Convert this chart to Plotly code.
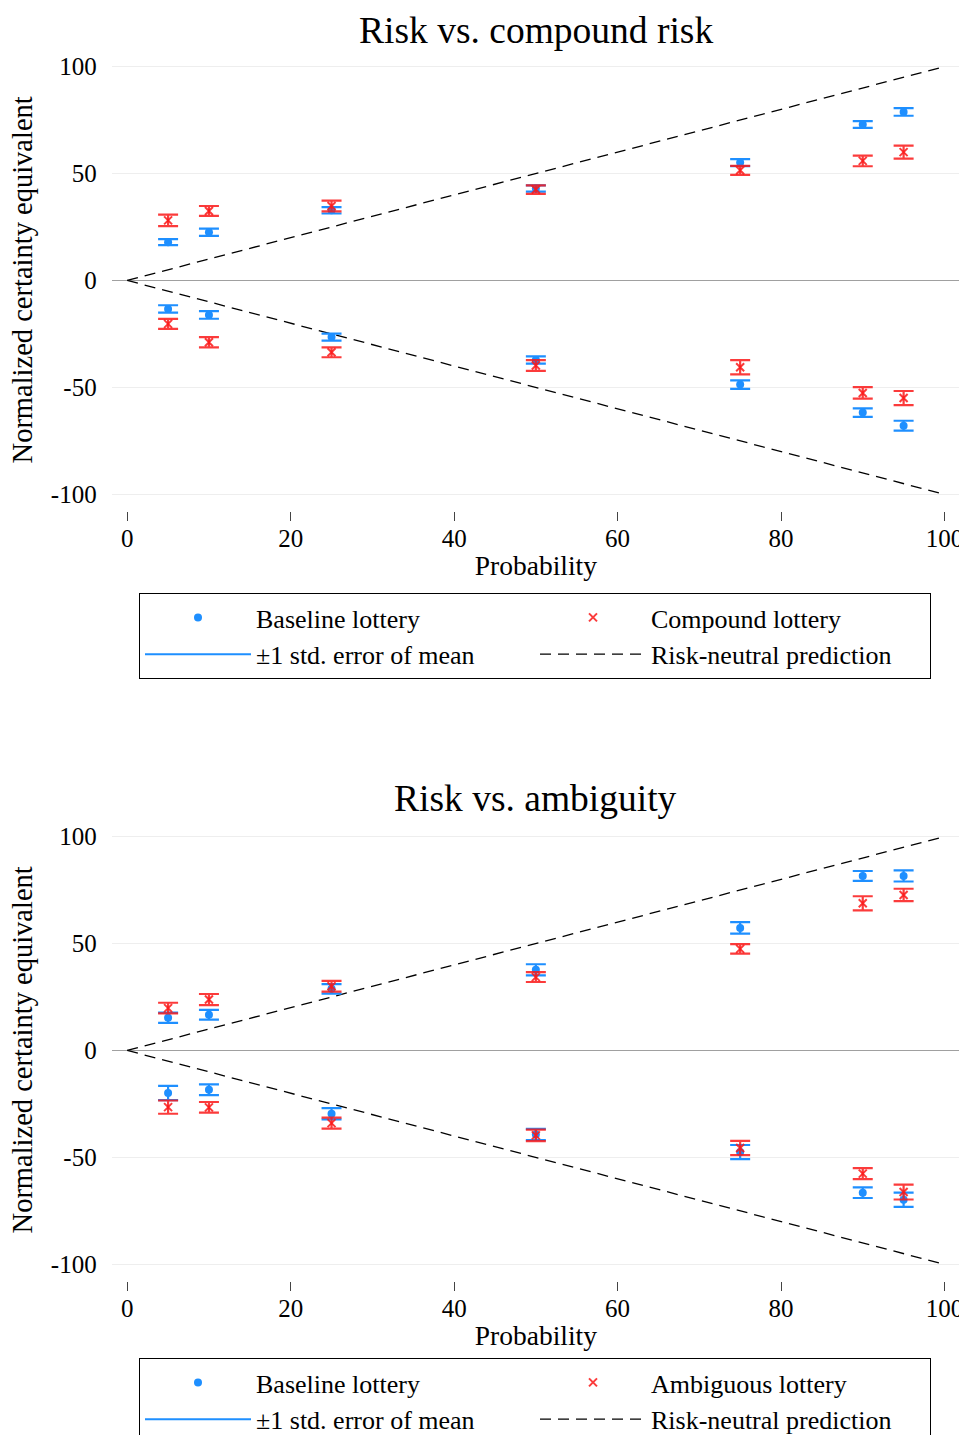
import plotly.graph_objects as go

# The page body has an 8px default margin, so keep the figure inside the window
OFF = 8
W, H = 967 - OFF, 1443 - 2 * OFF

probability = [5, 10, 25, 50, 75, 90, 95]

# Panel 1: Risk vs. compound risk
p1_baseline_gain = [17.9, 22.5, 32.8, 43.0, 55.1, 72.9, 78.8]
p1_baseline_gain_se = [1.4, 1.7, 1.5, 1.5, 1.6, 1.6, 1.8]
p1_compound_gain = [28.1, 32.5, 34.8, 42.5, 51.5, 55.9, 60.0]
p1_compound_gain_se = [2.7, 2.3, 2.5, 2.0, 2.1, 2.5, 3.0]
p1_baseline_loss = [-13.3, -16.1, -26.5, -37.2, -48.7, -61.8, -67.9]
p1_baseline_loss_se = [1.7, 1.8, 1.6, 1.7, 2.0, 2.0, 2.3]
p1_compound_loss = [-20.3, -28.9, -33.6, -39.8, -40.6, -52.6, -55.0]
p1_compound_loss_se = [2.3, 2.4, 2.3, 2.5, 3.3, 2.7, 3.3]

# Panel 2: Risk vs. ambiguity
p2_baseline_gain = [15.3, 16.7, 28.8, 37.7, 57.3, 81.6, 81.6]
p2_baseline_gain_se = [2.4, 2.3, 2.2, 2.6, 2.7, 2.3, 2.6]
p2_ambiguous_gain = [19.8, 23.8, 30.0, 34.3, 47.5, 68.8, 72.7]
p2_ambiguous_gain_se = [2.5, 2.6, 2.5, 2.3, 2.2, 3.3, 2.9]
p2_baseline_loss = [-19.9, -18.4, -29.6, -39.3, -47.5, -66.5, -69.8]
p2_baseline_loss_se = [3.3, 2.5, 2.6, 2.6, 3.3, 2.5, 3.3]
p2_ambiguous_loss = [-26.5, -26.6, -34.0, -39.7, -45.6, -57.6, -66.2]
p2_ambiguous_loss_se = [3.1, 2.5, 2.6, 2.7, 3.3, 2.6, 3.5]

# Risk-neutral prediction
neutral_x = [0, 100, None, 0, 100]
neutral_y = [0, 100, None, 0, -100]

x_ticks = [0, 20, 40, 60, 80, 100]
y_ticks = [-100, -50, 0, 50, 100]
y_tick_labels = ["-100", "-50", "0", "50", "100"]

titles = ["Risk vs. compound risk", "Risk vs. ambiguity"]
alt_names = ["Compound lottery", "Ambiguous lottery"]

BLUE = "#1E8FFF"
RED = "rgba(250,25,25,0.85)"
FONT = "Liberation Serif"

fig = go.Figure()

panels = [
    (p1_baseline_gain, p1_baseline_gain_se, p1_baseline_loss, p1_baseline_loss_se,
     p1_compound_gain, p1_compound_gain_se, p1_compound_loss, p1_compound_loss_se),
    (p2_baseline_gain, p2_baseline_gain_se, p2_baseline_loss, p2_baseline_loss_se,
     p2_ambiguous_gain, p2_ambiguous_gain_se, p2_ambiguous_loss, p2_ambiguous_loss_se),
]

for i, (bg, bgs, bl, bls, ag, ags, al, als) in enumerate(panels):
    xa = "x" if i == 0 else "x2"
    ya = "y" if i == 0 else "y2"
    lg = "legend" if i == 0 else "legend2"
    fig.add_trace(go.Scatter(
        x=neutral_x, y=neutral_y, mode="lines", name="Risk-neutral prediction",
        line=dict(color="black", width=1.3, dash="11px,7px"),
        xaxis=xa, yaxis=ya, legend=lg, legendrank=4, hoverinfo="skip"))
    for k, (yv, se) in enumerate([(bg, bgs), (bl, bls)]):
        fig.add_trace(go.Scatter(
            x=probability, y=yv, mode="markers", name="Baseline lottery",
            marker=dict(color=BLUE, size=8, symbol="circle"),
            error_y=dict(type="data", array=se, visible=True, color=BLUE,
                         thickness=2.2, width=10),
            xaxis=xa, yaxis=ya, legend=lg, legendrank=1, showlegend=(k == 0)))
    for k, (yv, se) in enumerate([(ag, ags), (al, als)]):
        fig.add_trace(go.Scatter(
            x=probability, y=yv, mode="markers", name=alt_names[i],
            marker=dict(color=RED, size=8, symbol="x-thin",
                        line=dict(color=RED, width=2)),
            error_y=dict(type="data", array=se, visible=True, color=RED,
                         thickness=2.2, width=10),
            xaxis=xa, yaxis=ya, legend=lg, legendrank=2, showlegend=(k == 0)))
    fig.add_trace(go.Scatter(
        x=[None], y=[None], mode="lines", name="±1 std. error of mean",
        line=dict(color=BLUE, width=2),
        xaxis=xa, yaxis=ya, legend=lg, legendrank=3))


def fx(px):
    return (px - OFF) / W


def fy(px):
    return 1 - (px - OFF) / H


x_dom = [fx(111.7), fx(960)]
y_doms = [[fy(511), fy(62.3)], [fy(1281), fy(832.3)]]

axis_common_x = dict(
    range=[-1.9, 101.9], tickvals=x_ticks, showgrid=False, zeroline=False,
    showline=False, ticks="outside", ticklen=9, tickwidth=1, tickcolor="#444",
    tickfont=dict(family=FONT, size=25, color="black"), ticklabelstandoff=-4,
    title=dict(text="Probability", font=dict(family=FONT, size=27.5, color="black"),
               standoff=4),
    domain=x_dom,
)
axis_common_y = dict(
    range=[-107.8, 102], tickvals=y_ticks, ticktext=y_tick_labels,
    showgrid=True, gridcolor="#EEEEEE",
    gridwidth=1, zeroline=True, zerolinecolor="#A0A0A0", zerolinewidth=1.3,
    showline=False, ticks="", tickfont=dict(family=FONT, size=25, color="black"),
    ticklabelstandoff=14,
)

fig.update_layout(
    width=W, height=H,
    margin=dict(l=0, r=0, t=0, b=0, autoexpand=False),
    paper_bgcolor="white", plot_bgcolor="white",
    font=dict(family=FONT, color="black"),
    xaxis=dict(**axis_common_x, anchor="y"),
    yaxis=dict(**axis_common_y, domain=y_doms[0], anchor="x"),
    xaxis2=dict(**axis_common_x, anchor="y2"),
    yaxis2=dict(**axis_common_y, domain=y_doms[1], anchor="x2"),
)

legend_common = dict(
    orientation="h", xanchor="left", yanchor="top", x=fx(139),
    bordercolor="black", borderwidth=1, bgcolor="white",
    font=dict(family=FONT, size=26, color="black"),
    entrywidth=274, entrywidthmode="pixels", itemwidth=106,
    traceorder="normal",
)
fig.update_layout(
    legend=dict(**legend_common, y=fy(593)),
    legend2=dict(**legend_common, y=fy(1358)),
)

annotations = []
for i in range(2):
    annotations.append(dict(
        text=titles[i], xref="x domain" if i == 0 else "x2 domain", x=0.5,
        yref="paper", y=fy(30.5 + 768 * i), xanchor="center", yanchor="middle",
        showarrow=False, font=dict(family=FONT, size=37.5, color="black")))
    annotations.append(dict(
        text="Normalized certainty equivalent", xref="paper", x=fx(22),
        yref="y" if i == 0 else "y2", y=0, textangle=-90,
        xanchor="center", yanchor="middle", showarrow=False,
        font=dict(family=FONT, size=28.5, color="black")))
fig.update_layout(annotations=annotations)

fig.write_html("out.html")
